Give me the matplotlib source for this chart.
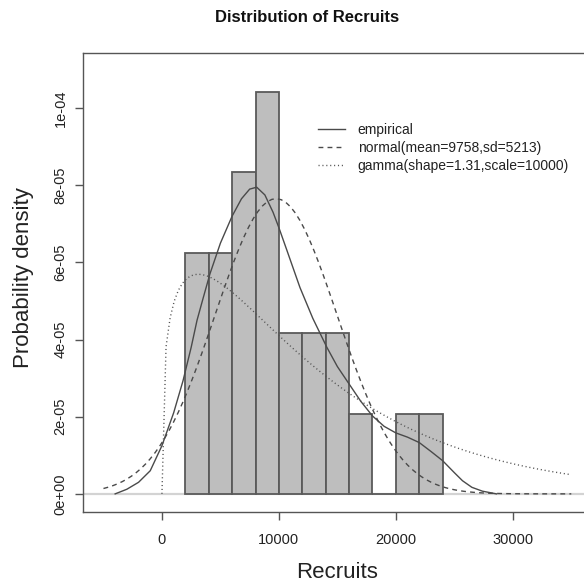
import math
import numpy as np
import matplotlib.pyplot as plt

plt.rcParams['font.family'] = ['Liberation Sans', 'DejaVu Sans']

# histogram of recruits (bin edges and counts per 2000-wide bin)
bin_edges = [2000, 4000, 6000, 8000, 10000, 12000, 14000, 16000, 18000, 20000, 22000, 24000]
bin_counts = [6, 6, 8, 10, 4, 4, 4, 2, 0, 2, 2]

# empirical density curve (y in 1e-05)
emp_x = [-4000, -3000, -2000, -1000, 0, 1000, 1800, 2500, 3000, 3500, 4100, 5000,
         6000, 6800, 7500, 8100, 8800, 9500, 10000, 10700, 11800, 12900, 14100, 15000, 16000,
         17000, 18000, 19000, 20000, 21000, 22000, 23000, 24000, 25000, 25700, 26500,
         27400, 28600]
emp_y = [0.0, 0.12, 0.3, 0.6, 1.25, 2.1, 2.93, 3.8, 4.5, 5.05, 5.7, 6.5,
         7.2, 7.65, 7.9, 7.95, 7.75, 7.3, 6.9, 6.3, 5.35, 4.55, 3.8, 3.3, 2.85,
         2.4, 2.02, 1.75, 1.58, 1.47, 1.33, 1.1, 0.86, 0.55, 0.34, 0.17,
         0.07, 0.0]

# fitted distributions (from the legend)
normal_mean = 9758
normal_sd = 5213
gamma_shape = 1.31
gamma_scale = 10000

legend_labels = ['empirical', 'normal(mean=9758,sd=5213)', 'gamma(shape=1.31,scale=10000)']
xtick_vals = [0, 10000, 20000, 30000]
ytick_vals = [0, 2e-05, 4e-05, 6e-05, 8e-05, 1e-04]
ytick_labels = ['0e+00', '2e-05', '4e-05', '6e-05', '8e-05', '1e-04']

W, H = 584, 583
fig = plt.figure(figsize=(W / 100, H / 100), dpi=100)
# plot box runs a bit past the right edge of the image, like the original
ax = fig.add_axes([83 / W, 71 / H, 507 / W, 459 / H])

mids = [(a + b) / 2 for a, b in zip(bin_edges[:-1], bin_edges[1:])]
ax.hist(mids, bins=bin_edges, weights=bin_counts, density=True,
        color='#bebebe', edgecolor='#5a5a5a', linewidth=1.3, zorder=2)

ax.axhline(0, color='#d3d3d3', lw=1.6, zorder=1)

ax.plot(emp_x, np.array(emp_y) * 1e-5, color='#4a4a4a', lw=1.0, zorder=3,
        label=legend_labels[0])

xn = np.linspace(-5000, 35000, 101)
yn = np.exp(-0.5 * ((xn - normal_mean) / normal_sd) ** 2) / (normal_sd * math.sqrt(2 * math.pi))
ax.plot(xn, yn, color='#4a4a4a', lw=1.0, dashes=(3.5, 3), zorder=3,
        label=legend_labels[1])

xg = np.linspace(0, 35000, 101)
yg = xg ** (gamma_shape - 1) * np.exp(-xg / gamma_scale) / (math.gamma(gamma_shape) * gamma_scale ** gamma_shape)
ax.plot(xg, yg, color='#555555', lw=1.0, dashes=(0.8, 2.0), zorder=3,
        label=legend_labels[2])

ax.set_xlim(-6750, 36600)
ax.set_ylim(-0.47e-5, 1.1429e-4)

ax.set_xticks(xtick_vals)
ax.set_xticklabels([str(v) for v in xtick_vals])
ax.set_yticks(ytick_vals)
ax.set_yticklabels(ytick_labels, rotation=90, va='center')

for s in ax.spines.values():
    s.set_color('#555555')
    s.set_linewidth(1.0)
ax.tick_params(direction='out', length=6, width=1.0, color='#555555',
               labelsize=10.5, labelcolor='#222222')
ax.tick_params(axis='x', pad=9)
ax.tick_params(axis='y', pad=5)

leg = ax.legend(loc='upper left', bbox_to_anchor=((312 - 83) / 507, (512 - 117) / 459),
                frameon=False, fontsize=10, handlelength=1.95, handletextpad=0.95,
                labelspacing=0.3, borderaxespad=0)
for t in leg.get_texts():
    t.set_color('#222222')

fig.text(307 / W, 1 - 18 / H, 'Distribution of Recruits', ha='center', va='center',
         fontsize=12, fontweight='bold', color='#111111')
fig.text(337 / W, 1 - 572 / H, 'Recruits', ha='center', va='center',
         fontsize=16, color='#222222')
fig.text(24 / W, 1 - 278 / H, 'Probability density', ha='center', va='center',
         rotation=90, fontsize=16, color='#222222')

fig.savefig('out.png', dpi=100)
